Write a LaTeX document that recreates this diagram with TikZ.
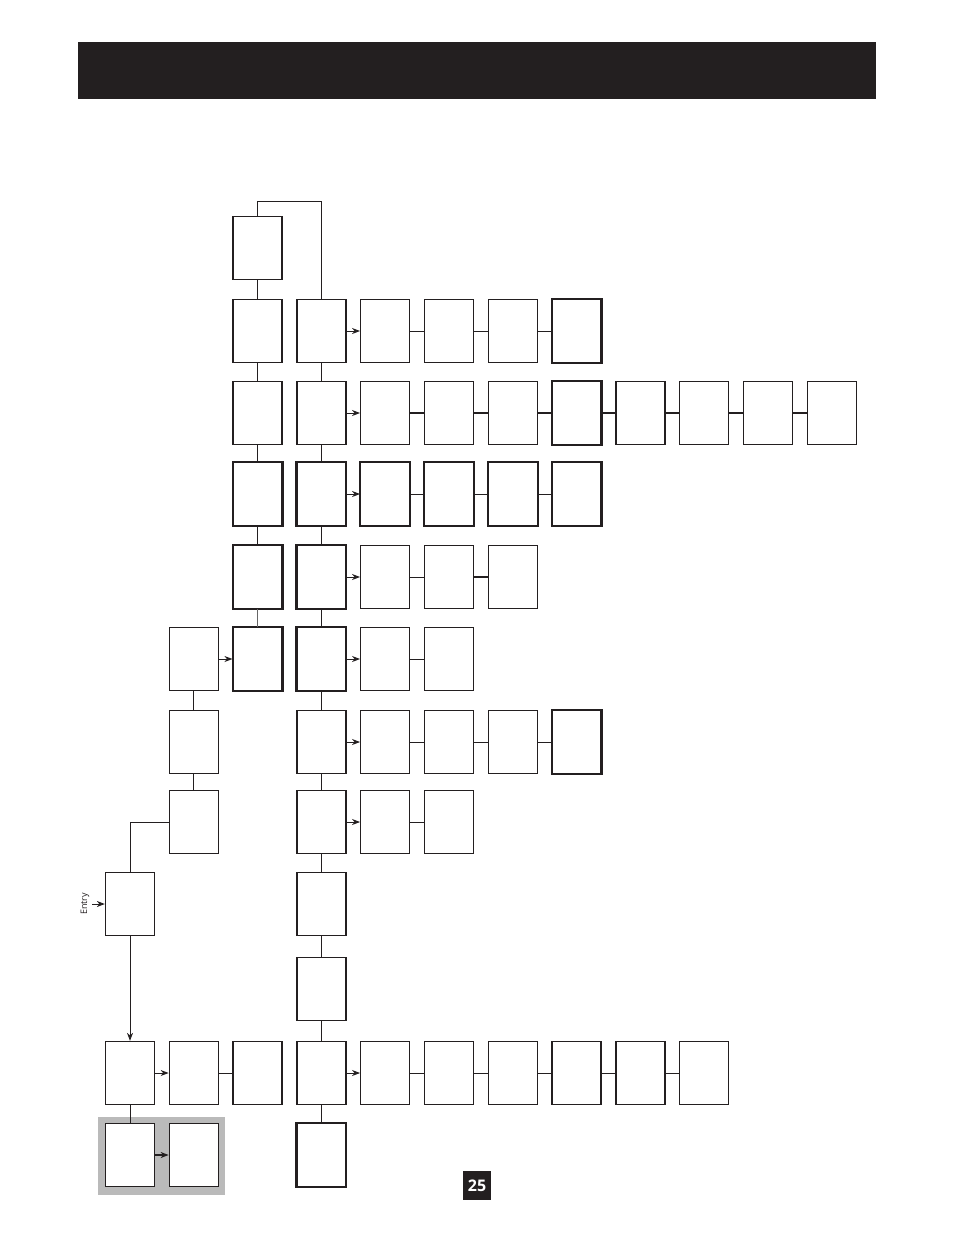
\documentclass[tikz,border=0pt]{standalone}
\usepackage{fontspec}
\setmainfont{Open Sans}
\usetikzlibrary{arrows.meta}
\definecolor{ink}{HTML}{231F20}
\begin{document}
\begin{tikzpicture}[x=1pt,y=-1pt,
  bx/.style={draw=ink,fill=white,line width=1.3pt,rectangle,inner sep=0pt,minimum width=49pt,minimum height=63pt},
  ln/.style={draw=ink,line width=1pt},
  tl/.style={draw=ink,line width=1.8pt},
  arr/.style={draw=ink,line width=1pt,-{Stealth[length=8pt,width=6pt,inset=2.5pt]}},
  tarr/.style={draw=ink,line width=1.8pt,-{Stealth[length=8pt,width=6pt,inset=2.5pt]}}]
\useasboundingbox (0,0) rectangle (954,1235);
% header bar
\fill[ink] (78,42) rectangle (876,99);
% grey highlight
\fill[black!27] (98,1117) rectangle (225,1195);
% boxes
\foreach \r/\y/\cols in {1/248/{3},2/331/{3,4,5,6,7,8},3/413/{3,4,5,6,7,8,9,10,11,12},4/494/{3,4,5,6,7,8},5/577/{3,4,5,6,7},6/659/{2,3,4,5,6},7/742/{2,4,5,6,7,8},8/822/{2,4,5,6},9/904/{1,4},10/989/{4},11/1073/{1,2,3,4,5,6,7,8,9,10},12/1155/{1,2,4}}{
  \foreach \c in \cols {
    \node[bx] (b\r-\c) at ({130+(\c-1)*63.8},\y) {};
  }
}
% heavier outlines
\foreach \n in {4-3,4-4,4-5,4-6,4-7,4-8,5-3,5-4,6-3,6-4,7-8,2-8,3-8,12-4}{
  \draw[line width=1.8pt,ink] (b\n.south west) rectangle (b\n.north east);
}
% vertical connectors column 3
\draw[ln] (b1-3.south) -- (b2-3.north);
\draw[ln] (b2-3.south) -- (b3-3.north);
\draw[ln] (b3-3.south) -- (b4-3.north);
\draw[ln] (b4-3.south) -- (b5-3.north);
\draw[ln,draw=black!60] (b5-3.south) -- (b6-3.north);
% loop from top
\draw[ln] (b1-3.north) -- ++(0,-14) -| (b2-4.north);
% column 4
\foreach \a/\b in {2/3,3/4,4/5,5/6,6/7,7/8,8/9,9/10,10/11,11/12}{
  \draw[ln] (b\a-4.south) -- (b\b-4.north);
}
% column 2
\draw[ln] (b6-2.south) -- (b7-2.north);
\draw[ln] (b7-2.south) -- (b8-2.north);
% entry
\node[rotate=90,font=\fontsize{9}{9}\selectfont,inner sep=0pt,text=ink] (entry) at (85,904) {Entry};
\coordinate (ein) at (92,904);
\draw[arr] (ein) -- (b9-1.west);
\draw[ln] (b9-1.north) |- (b8-2.west);
\draw[arr] (b9-1.south) -- (b11-1.north);
\draw[ln] (b11-1.south) -- (b12-1.north);
% horizontal connectors
\foreach \r in {2,3,4,5,6,7,8,11}{
  \draw[arr] (b\r-4.east) -- (b\r-5.west);
}
\draw[arr] (b6-2.east) -- (b6-3.west);
\draw[arr] (b11-1.east) -- (b11-2.west);
\draw[tarr] (b12-1.east) -- (b12-2.west);
\draw[ln] (b11-2.east) -- (b11-3.west);
\foreach \a/\b in {5/6,6/7,7/8}{
  \draw[ln] (b2-\a.east) -- (b2-\b.west);
  \draw[ln] (b4-\a.east) -- (b4-\b.west);
  \draw[ln] (b7-\a.east) -- (b7-\b.west);
}
\foreach \a/\b in {5/6,6/7,7/8,8/9,9/10,10/11,11/12}{
  \draw[tl] (b3-\a.east) -- (b3-\b.west);
}
\foreach \a/\b in {5/6,6/7,7/8,8/9,9/10}{
  \draw[ln] (b11-\a.east) -- (b11-\b.west);
}
\draw[ln] (b5-5.east) -- (b5-6.west);
\draw[tl] (b5-6.east) -- (b5-7.west);
\draw[ln] (b6-5.east) -- (b6-6.west);
\draw[ln] (b8-5.east) -- (b8-6.west);
% page number
\node[fill=ink,text=white,font=\bfseries\fontsize{16}{16}\selectfont,minimum width=28pt,minimum height=29pt,inner sep=0pt] (pg) at (477,1185.5) {25};
\end{tikzpicture}
\end{document}
